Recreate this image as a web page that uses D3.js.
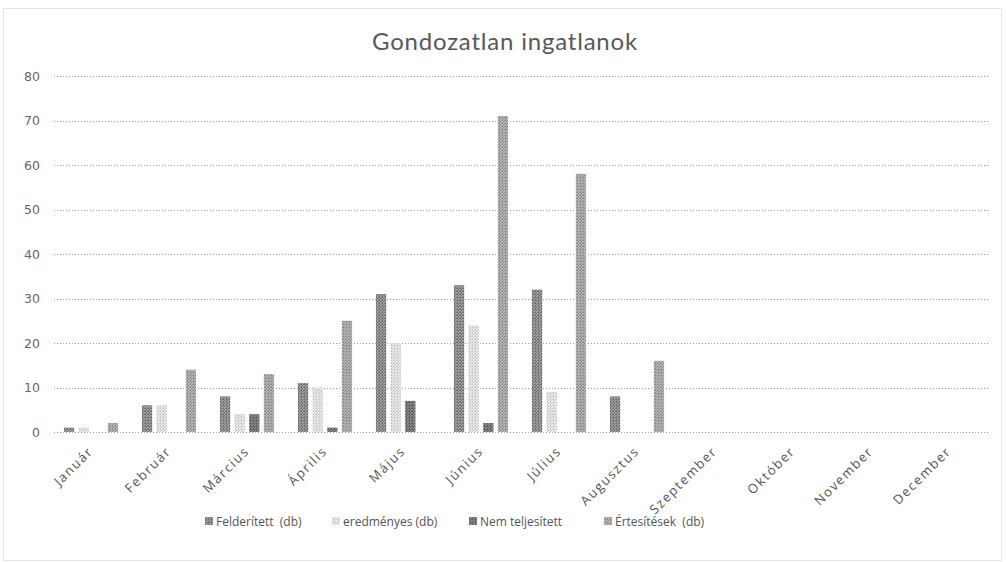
<!DOCTYPE html>
<html><head><meta charset="utf-8">
<script src="https://cdn.jsdelivr.net/npm/d3@7"></script>
<style>body{margin:0;background:#fff}svg{display:block}</style>
</head><body><svg id="c" width="1007" height="562"></svg>
<script>
const months = ["Január","Február","Március","Április","Május","Június","Július","Augusztus","Szeptember","Október","November","December"];
const seriesNames = ["Felderített  (db)","eredményes (db)","Nem teljesített","Értesítések  (db)"];
const felderitett = [1,6,8,11,31,33,32,8,0,0,0,0];
const eredmenyes  = [1,6,4,10,20,24,9,0,0,0,0,0];
const nemTelj     = [0,0,4,1,7,2,0,0,0,0,0,0];
const ertesitesek = [2,14,13,25,0,71,58,16,0,0,0,0];
const yTicks = [0,10,20,30,40,50,60,70,80];
const title = "Gondozatlan ingatlanok";

const allSeries = [felderitett, eredmenyes, nemTelj, ertesitesek];
const colorsA = ["#6e6e6e","#c8c8c8","#5a5a5a","#8c8c8c"];
const colorsB = ["#a0a0a0","#ececec","#8a8a8a","#b8b8b8"];

const svg = d3.select("#c");
const defs = svg.append("defs");
colorsA.forEach((c,i)=>{
  const p = defs.append("pattern").attr("id","p"+i).attr("width",3).attr("height",3).attr("patternUnits","userSpaceOnUse");
  p.append("rect").attr("width",3).attr("height",3).attr("fill",colorsB[i]);
  p.append("rect").attr("x",0).attr("y",0).attr("width",1).attr("height",1).attr("fill",c);
  p.append("rect").attr("x",2).attr("y",1).attr("width",1).attr("height",1).attr("fill",c);
  p.append("rect").attr("x",1).attr("y",2).attr("width",1).attr("height",1).attr("fill",c);
  p.append("rect").attr("x",1).attr("y",0).attr("width",1).attr("height",1).attr("fill",c);
});

// border
svg.append("rect").attr("x",3.5).attr("y",8.5).attr("width",998).attr("height",552)
  .attr("fill","none").attr("stroke","#c8c8c8").attr("stroke-dasharray","1,1");

const x0 = d3.scaleBand().domain(months).range([53,989]).paddingInner(0.28).paddingOuter(0.14);
const x1 = d3.scaleBand().domain(d3.range(4)).range([0,x0.bandwidth()-2]).paddingInner(0.3);
const y = d3.scaleLinear().domain([0,80]).range([432,76]);

svg.append("text").attr("x",505).attr("y",50).attr("text-anchor","middle")
  .attr("font-family","Lato, 'Open Sans', sans-serif").attr("font-size",24).attr("letter-spacing",0.8)
  .attr("fill","#595959").text(title);

// gridlines
svg.append("g").selectAll("line").data(yTicks).join("line")
  .attr("x1",54).attr("x2",988).attr("y1",d=>Math.round(y(d))+0.5).attr("y2",d=>Math.round(y(d))+0.5)
  .attr("stroke","#9a9a9a").attr("stroke-width",1).attr("stroke-dasharray","1,2");

const yAxis = svg.append("g").attr("transform","translate(40,0)")
  .call(d3.axisLeft(y).tickValues(yTicks).tickSize(0).tickPadding(0));
yAxis.select(".domain").remove();
yAxis.selectAll("text").attr("font-family","'DejaVu Sans', sans-serif").attr("font-size",12.5).attr("fill","#666");

// bars
const g = svg.append("g");
months.forEach((m,mi)=>{
  allSeries.forEach((s,si)=>{
    const v = s[mi];
    if(!v) return;
    g.append("rect").attr("x",x0(m)+x1(si)).attr("y",y(v)).attr("width",x1.bandwidth())
      .attr("height",y(0)-y(v)).attr("fill","url(#p"+si+")");
  });
});

// x labels
const xl = svg.append("g").attr("transform","translate(0,436)")
  .call(d3.axisBottom(x0).tickSize(0).tickPadding(0));
xl.select(".domain").remove();
xl.selectAll("text").attr("font-family","'Open Sans', sans-serif").attr("font-size",13).attr("letter-spacing",1.6).attr("fill","#555")
  .attr("text-anchor","end").attr("dy",0).attr("transform","translate(2,16) rotate(-45)");

// legend
const legX = [205,332,469,604];
const lg = svg.append("g");
seriesNames.forEach((n,i)=>{
  lg.append("rect").attr("x",legX[i]).attr("y",517).attr("width",8).attr("height",8).attr("fill","url(#p"+i+")");
  lg.append("text").attr("x",legX[i]+11).attr("y",525.5).attr("font-family","'Open Sans', sans-serif")
    .attr("font-size",12).attr("fill","#555").attr("xml:space","preserve").style("white-space","pre").text(n);
});
</script></body></html>
